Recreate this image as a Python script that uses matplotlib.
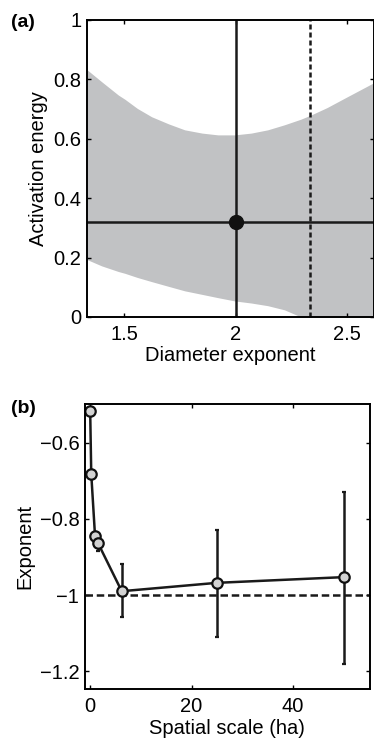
import numpy as np
import matplotlib
matplotlib.use('Agg')
import matplotlib.pyplot as plt
from matplotlib.ticker import FuncFormatter

plt.rcParams['font.family'] = ['Liberation Sans', 'DejaVu Sans']
plt.rcParams['font.size'] = 14.5
plt.rcParams['axes.linewidth'] = 1.4

# panel (a): confidence region of activation energy vs diameter exponent
band_x = [1.335, 1.40, 1.475, 1.504, 1.56, 1.624, 1.70, 1.772, 1.85, 1.921, 1.996, 2.07, 2.144, 2.219, 2.293, 2.338, 2.41, 2.487, 2.62]
band_hi = [0.832, 0.792, 0.747, 0.733, 0.702, 0.674, 0.650, 0.630, 0.619, 0.613, 0.613, 0.619, 0.630, 0.647, 0.666, 0.680, 0.705, 0.736, 0.789]
band_lo = [0.193, 0.172, 0.153, 0.147, 0.133, 0.119, 0.103, 0.088, 0.076, 0.065, 0.054, 0.047, 0.038, 0.024, 0.0, -0.015, -0.04, -0.06, -0.1]
best_d = 2.0
best_e = 0.32
alt_d = 2.333

# panel (b): exponent vs spatial scale
scale = [0.04, 0.25, 1.0, 1.56, 6.25, 25, 50]
expo = [-0.517, -0.682, -0.846, -0.863, -0.99, -0.968, -0.953]
err_lo = [0.0, 0.0, 0.01, 0.022, 0.069, 0.142, 0.227]
err_hi = [0.0, 0.0, 0.0, 0.0, 0.071, 0.139, 0.223]

fmt = FuncFormatter(lambda v, p: ('%g' % v).replace('-', '\u2212'))

fig = plt.figure(figsize=(3.74, 7.38), dpi=100)

ax1 = fig.add_axes([0.233, 0.5705, 0.767, 0.4025])
ax1.fill_between(band_x, band_lo, band_hi, color='#c1c2c4', lw=0)
ax1.axvline(best_d, color='#1a1a1a', lw=1.8)
ax1.axhline(best_e, color='#1a1a1a', lw=1.8)
ax1.axvline(alt_d, color='#1a1a1a', lw=1.8, ls=(0, (2, 1.2)))
ax1.plot([best_d], [best_e], 'o', color='#111111', ms=10)
ax1.set_xlim(1.335, 2.62)
ax1.set_ylim(0, 1)
ax1.set_xticks([1.5, 2, 2.5])
ax1.set_yticks([0, 0.2, 0.4, 0.6, 0.8, 1])
ax1.xaxis.set_major_formatter(fmt)
ax1.yaxis.set_major_formatter(fmt)
ax1.tick_params(direction='in', top=True, right=True, length=3, width=1)
ax1.tick_params(axis='x', pad=6)
ax1.tick_params(axis='y', pad=4)
ax1.set_xlabel('Diameter exponent', labelpad=1)
ax1.set_ylabel('Activation energy', labelpad=4)
fig.text(0.03, 0.969, '(a)', fontweight='bold', fontsize=14, va='center')

ax2 = fig.add_axes([0.227, 0.0664, 0.762, 0.3862])
ax2.axhline(-1, color='#1a1a1a', lw=1.8, ls=(0, (3, 1.5)))
ax2.errorbar(scale, expo, yerr=[err_lo, err_hi], color='#1a1a1a', lw=1.8,
             elinewidth=1.8, capsize=1.5, capthick=1.8,
             marker='o', ms=7.5, mfc='#d3d3d3', mec='#111111', mew=1.6)
ax2.set_xlim(-1, 55.1)
ax2.set_ylim(-1.247, -0.498)
ax2.set_xticks([0, 20, 40])
ax2.set_yticks([-1.2, -1, -0.8, -0.6])
ax2.xaxis.set_major_formatter(fmt)
ax2.yaxis.set_major_formatter(fmt)
ax2.tick_params(direction='in', top=True, right=True, length=3, width=1)
ax2.tick_params(axis='x', pad=6)
ax2.tick_params(axis='y', pad=4)
ax2.set_xlabel('Spatial scale (ha)', labelpad=2)
ax2.set_ylabel('Exponent', labelpad=4)
fig.text(0.03, 0.446, '(b)', fontweight='bold', fontsize=14, va='center')

fig.savefig('out.png', dpi=100)
